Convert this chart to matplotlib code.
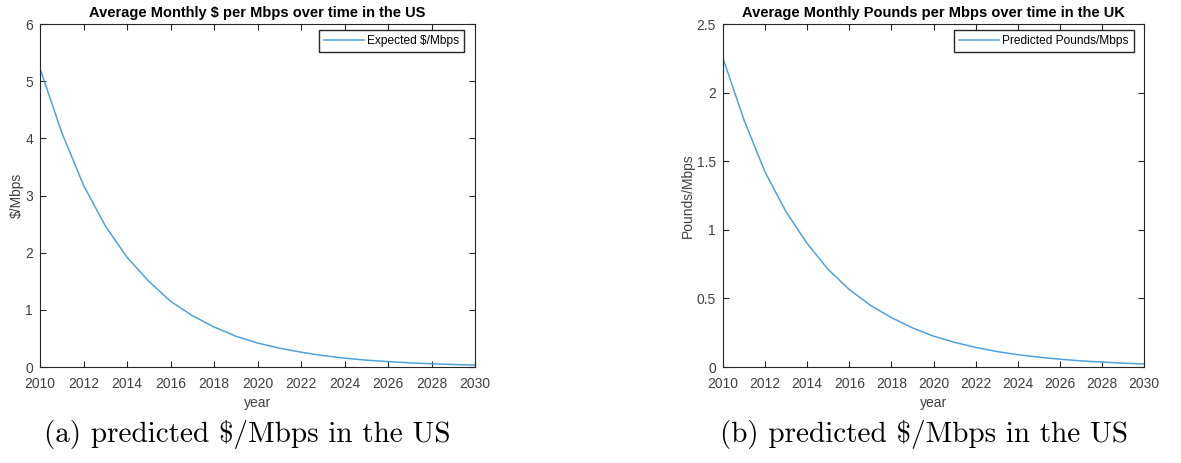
import matplotlib
matplotlib.use("Agg")
import matplotlib.pyplot as plt

plt.rcParams["font.family"] = ["Liberation Sans", "DejaVu Sans"]
plt.rcParams["axes.unicode_minus"] = False

years = list(range(2010, 2031))

# average monthly price per Mbps, one value per year
us_dollars = [5.22, 4.10, 3.18, 2.47, 1.92, 1.50, 1.15, 0.90, 0.70, 0.54, 0.42,
              0.33, 0.26, 0.20, 0.155, 0.12, 0.095, 0.073, 0.057, 0.044, 0.034]
uk_pounds = [2.25, 1.80, 1.42, 1.13, 0.90, 0.71, 0.565, 0.45, 0.36, 0.285, 0.225,
             0.18, 0.143, 0.113, 0.09, 0.072, 0.057, 0.045, 0.036, 0.028, 0.022]

x_ticks = list(range(2010, 2031, 2))
us_yticks = [0, 1, 2, 3, 4, 5, 6]
uk_yticks = [0, 0.5, 1, 1.5, 2, 2.5]
uk_ylabels = ["0", "0.5", "1", "1.5", "2", "2.5"]

LINE_COLOR = "#4ea3dc"
AX_COLOR = "#262626"
LABEL_COLOR = "#404040"


def style_axes(ax):
    for s in ax.spines.values():
        s.set_color(AX_COLOR)
        s.set_linewidth(0.8)
    ax.tick_params(direction="in", length=4, width=0.8, colors=AX_COLOR,
                   labelcolor=LABEL_COLOR, labelsize=10, top=True, right=True)
    ax.tick_params(axis="x", pad=7)
    ax.tick_params(axis="y", pad=5)
    ax.set_xlim(2010, 2030)
    ax.set_xticks(x_ticks)


def add_legend(ax):
    ax.legend(loc="upper right", bbox_to_anchor=(0.975, 0.982), borderaxespad=0,
              fontsize=8.6, frameon=True, fancybox=False, edgecolor=AX_COLOR,
              framealpha=1, handlelength=3.4, handletextpad=0.25, borderpad=0.4)


fig = plt.figure(figsize=(11.81, 4.63), dpi=100)

ax1 = fig.add_axes([0.0339, 0.2073, 0.3683, 0.7408])
ax1.plot(years, us_dollars, color=LINE_COLOR, lw=1.1, label="Expected $/Mbps")
style_axes(ax1)
ax1.set_ylim(0, 6)
ax1.set_yticks(us_yticks)
ax1.set_title("Average Monthly $ per Mbps over time in the US",
              fontsize=10.5, fontweight="bold", pad=5)
ax1.set_xlabel("year", fontsize=10, color=LABEL_COLOR, labelpad=4)
ax1.set_ylabel("$/Mbps", fontsize=10, color=LABEL_COLOR, labelpad=1)
add_legend(ax1)

ax2 = fig.add_axes([0.6122, 0.2073, 0.3565, 0.7408])
ax2.plot(years, uk_pounds, color=LINE_COLOR, lw=1.1, label="Predicted Pounds/Mbps")
style_axes(ax2)
ax2.set_ylim(0, 2.5)
ax2.set_yticks(uk_yticks)
ax2.set_yticklabels(uk_ylabels)
ax2.set_title("Average Monthly Pounds per Mbps over time in the UK",
              fontsize=10.5, fontweight="bold", pad=5)
ax2.set_xlabel("year", fontsize=10, color=LABEL_COLOR, labelpad=4)
ax2.set_ylabel("Pounds/Mbps", fontsize=10, color=LABEL_COLOR, labelpad=1)
add_legend(ax2)

# sub-figure captions
cap = dict(fontsize=21, family=["cmr10", "DejaVu Serif"], ha="center", va="center")
fig.text(0.2096, 0.0605, r"(a) predicted \$/Mbps in the US", **cap)
fig.text(0.7824, 0.0605, r"(b) predicted \$/Mbps in the US", **cap)

fig.savefig("out.png", dpi=100)
